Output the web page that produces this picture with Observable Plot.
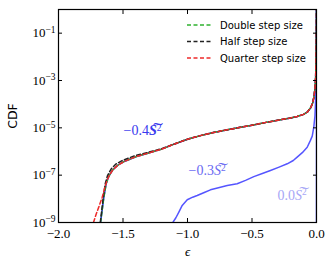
<!DOCTYPE html>
<html><head><meta charset="utf-8">
<script src="https://cdn.jsdelivr.net/npm/d3@7"></script>
<script src="https://cdn.jsdelivr.net/npm/@observablehq/plot@0.6"></script>
<style>
body{margin:0;background:#fff;}
#wrap{position:relative;width:333px;height:268px;}
#legend{position:absolute;left:183px;top:15px;}
</style></head><body><div id="wrap"></div>
<script>
// ticks
const xTicks = [-2, -1.5, -1, -0.5, 0];
const yTicks = [1e-9, 1e-7, 1e-5, 1e-3, 1e-1];

// -0.4 S~^2 (solid, also green "Double step size")
const mainEps = [-1.674,-1.662,-1.649,-1.630,-1.610,-1.580,-1.540,-1.490,-1.400,-1.300,-1.200,-1.100,-1.000,-0.900,-0.800,-0.700,-0.600,-0.500,-0.400,-0.300,-0.200,-0.150,-0.100,-0.070,-0.045,-0.030,-0.020,-0.012,-0.007,-0.004,-0.002,-0.001,0];
const mainLog = [-9.0,-8.5,-7.95,-7.35,-7.05,-6.78,-6.58,-6.42,-6.22,-6.06,-5.90,-5.68,-5.48,-5.33,-5.20,-5.09,-4.99,-4.89,-4.78,-4.68,-4.58,-4.52,-4.43,-4.33,-4.15,-3.95,-3.70,-3.35,-2.9,-2.3,-1.5,-0.8,0];

// Half step size (black dashed)
const halfEps = [-1.676,-1.665,-1.653,-1.637,-1.620,-1.592,-1.555,-1.505,-1.410,-1.300,-1.200,-1.100,-1.000,-0.900,-0.800,-0.700,-0.600,-0.500,-0.400,-0.300,-0.200,-0.150,-0.100,-0.070,-0.045,-0.030,-0.020,-0.012,-0.007,-0.004,-0.002,-0.001,0];
const halfLog = [-9.0,-8.5,-7.95,-7.35,-7.02,-6.74,-6.53,-6.38,-6.18,-6.03,-5.88,-5.68,-5.48,-5.33,-5.20,-5.09,-4.99,-4.89,-4.78,-4.68,-4.58,-4.52,-4.43,-4.33,-4.15,-3.95,-3.70,-3.35,-2.9,-2.3,-1.5,-0.8,0];

// Quarter step size (red dashed)
const quarterEps = [-1.729,-1.705,-1.688,-1.661,-1.640,-1.625,-1.610,-1.580,-1.540,-1.490,-1.400,-1.300,-1.200,-1.100,-1.000,-0.900,-0.800,-0.700,-0.600,-0.500,-0.400,-0.300,-0.200,-0.150,-0.100,-0.070,-0.045,-0.030,-0.020,-0.012,-0.007,-0.004,-0.002,-0.001,0];
const quarterLog = [-9.0,-8.6,-8.35,-7.93,-7.5,-7.25,-7.05,-6.78,-6.58,-6.42,-6.22,-6.06,-5.90,-5.68,-5.48,-5.33,-5.20,-5.09,-4.99,-4.89,-4.78,-4.68,-4.58,-4.52,-4.43,-4.33,-4.15,-3.95,-3.70,-3.35,-2.9,-2.3,-1.5,-0.8,0];

// -0.3 S~^2
const m03Eps = [-1.114,-1.090,-1.067,-1.041,-1.002,-0.960,-0.925,-0.870,-0.822,-0.760,-0.692,-0.615,-0.550,-0.486,-0.420,-0.357,-0.290,-0.227,-0.180,-0.150,-0.110,-0.072,-0.047,-0.033,-0.021,-0.012,-0.008,-0.004,-0.002,-0.001,0];
const m03Log = [-9.0,-8.80,-8.56,-8.28,-8.04,-7.93,-7.86,-7.73,-7.62,-7.53,-7.44,-7.36,-7.22,-7.06,-6.93,-6.80,-6.66,-6.52,-6.38,-6.24,-6.05,-5.82,-5.53,-5.35,-4.97,-4.5,-3.98,-3.0,-2.0,-1.0,0];

// 0.0 S~^2
const z00Eps = [-0.0018,-0.0012,-0.0006,0];
const z00Log = [-9.0,-6.0,-3.0,0];

// curve labels
const labelCoef = ["−0.4", "−0.3", "0.0"];
const labelEps = [-1.496, -0.992, -0.302];
const labelLog = [-5.32, -7.01, -8.03];
const labelColors = ["#3a3aee", "#6a6af2", "#a6a6f6"];
const labelBold = [true, false, false];

// legend
const legendNames = ["Double step size", "Half step size", "Quarter step size"];
const legendColors = ["#2fb12f", "#222222", "#ee2a2a"];

const toRows = (eps, lg) => eps.map((e, i) => ({eps: e, cdf: Math.pow(10, lg[i])}));
const mainData = toRows(mainEps, mainLog);
const halfData = toRows(halfEps, halfLog);
const quarterData = toRows(quarterEps, quarterLog);
const m03Data = toRows(m03Eps, m03Log);
const z00Data = toRows(z00Eps, z00Log);
const labels = labelCoef.map((c, i) => ({c, eps: labelEps[i], cdf: Math.pow(10, labelLog[i]), color: labelColors[i], bold: labelBold[i]}));

const sup = {"-": "⁻", "0":"⁰","1":"¹","2":"²","3":"³","4":"⁴","5":"⁵","6":"⁶","7":"⁷","8":"⁸","9":"⁹"};
const fmtY = d => "10" + String(Math.round(Math.log10(d))).split("").map(ch => sup[ch]).join("");
const fmtX = d => d.toFixed(1).replace("-", "−");
const dash = "4,2.5";

const plot = Plot.plot({
  width: 333, height: 268,
  marginLeft: 58, marginRight: 17, marginTop: 9, marginBottom: 46,
  style: {background: "white", color: "black"},
  x: {domain: [-2, 0]},
  y: {type: "log", domain: [1e-9, 1]},
  marks: [
    Plot.line(z00Data, {x: "eps", y: "cdf", stroke: "#9a9aff", strokeWidth: 1.5, clip: true}),
    Plot.line(m03Data, {x: "eps", y: "cdf", stroke: "#5555ff", strokeWidth: 1.5, clip: true}),
    Plot.line(mainData, {x: "eps", y: "cdf", stroke: "#2323f0", strokeWidth: 1.5, clip: true}),
    Plot.line(mainData, {x: "eps", y: "cdf", stroke: legendColors[0], strokeWidth: 1.5, strokeDasharray: dash, clip: true}),
    Plot.line(halfData, {x: "eps", y: "cdf", stroke: legendColors[1], strokeWidth: 1.5, strokeDasharray: dash, clip: true}),
    Plot.line(quarterData, {x: "eps", y: "cdf", stroke: legendColors[2], strokeWidth: 1.5, strokeDasharray: dash, clip: true}),
    Plot.text(labels, {x: "eps", y: "cdf", text: "c", fill: "color", textAnchor: "start", lineAnchor: "bottom", fontSize: 14, fontFamily: "Liberation Serif"}),
    Plot.frame({stroke: "black", strokeWidth: 1.2}),
    Plot.axisX(xTicks, {anchor: "bottom", tickSize: -4, tickPadding: 10, tickFormat: fmtX, fontSize: 13, fontFamily: "Liberation Serif", label: "ϵ", labelAnchor: "center", labelOffset: 33, labelArrow: "none"}),
    Plot.axisX(xTicks, {anchor: "top", tickSize: -4, tickFormat: () => "", label: null}),
    Plot.axisY(yTicks, {anchor: "left", tickSize: -4, tickPadding: 7, tickFormat: fmtY, fontSize: 13, fontFamily: "Liberation Serif", label: "CDF", labelAnchor: "center", labelOffset: 50, labelArrow: "none"}),
    Plot.axisY(yTicks, {anchor: "right", tickSize: -4, tickFormat: () => "", label: null})
  ]
});

const wrap = document.getElementById("wrap");
wrap.appendChild(plot);

// y tick labels: superscript exponents as tspans
const svgNS = "http://www.w3.org/2000/svg";
plot.querySelectorAll('g[aria-label="y-axis tick label"] text').forEach(t => {
  const s = t.textContent;
  if (!s.startsWith("10")) return;
  const inv = Object.fromEntries(Object.entries(sup).map(([k, v]) => [v, k]));
  const ex = s.slice(2).split("").map(ch => inv[ch] === "-" ? "−" : inv[ch]).join("");
  t.textContent = "";
  const a = document.createElementNS(svgNS, "tspan"); a.textContent = "10"; t.appendChild(a);
  const b = document.createElementNS(svgNS, "tspan"); b.textContent = ex;
  b.setAttribute("dy", "-0.45em"); b.setAttribute("font-size", "9.5"); t.appendChild(b);
});
// axis label fonts
plot.querySelectorAll('g[aria-label="y-axis label"] text').forEach(t => {
  t.setAttribute("font-family", "DejaVu Sans"); t.setAttribute("font-size", "12.5");
  t.style.fontFamily = "DejaVu Sans"; t.style.fontSize = "12.5px";
});
plot.querySelectorAll('g[aria-label="x-axis label"] text').forEach(t => {
  t.setAttribute("font-style", "italic");
});
// curve labels: coefficient + S~^2
plot.querySelectorAll('g[aria-label="text"] text').forEach((t, i) => {
  const lab = labels.find(l => l.c === t.textContent);
  if (!lab) return;
  const s = document.createElementNS(svgNS, "tspan");
  s.textContent = "S\u0360"; s.setAttribute("font-style", "italic");
  if (lab.bold) s.setAttribute("font-weight", "bold");
  t.appendChild(s);
  const e = document.createElementNS(svgNS, "tspan");
  e.textContent = "2"; e.setAttribute("dy", "-0.45em"); e.setAttribute("font-size", "9.5");
  t.appendChild(e);
});

// legend
const lg = document.createElementNS(svgNS, "svg");
lg.setAttribute("id", "legend"); lg.setAttribute("width", "140"); lg.setAttribute("height", "52");
legendNames.forEach((name, i) => {
  const y = 10 + i * 16.5;
  const l = document.createElementNS(svgNS, "line");
  l.setAttribute("x1", 4); l.setAttribute("x2", 28); l.setAttribute("y1", y); l.setAttribute("y2", y);
  l.setAttribute("stroke", legendColors[i]); l.setAttribute("stroke-width", 1.5); l.setAttribute("stroke-dasharray", dash);
  lg.appendChild(l);
  const tx = document.createElementNS(svgNS, "text");
  tx.setAttribute("x", 37); tx.setAttribute("y", y + 3.6);
  tx.setAttribute("font-family", "DejaVu Sans"); tx.setAttribute("font-size", 10);
  tx.textContent = name; lg.appendChild(tx);
});
wrap.appendChild(lg);
</script></body></html>
